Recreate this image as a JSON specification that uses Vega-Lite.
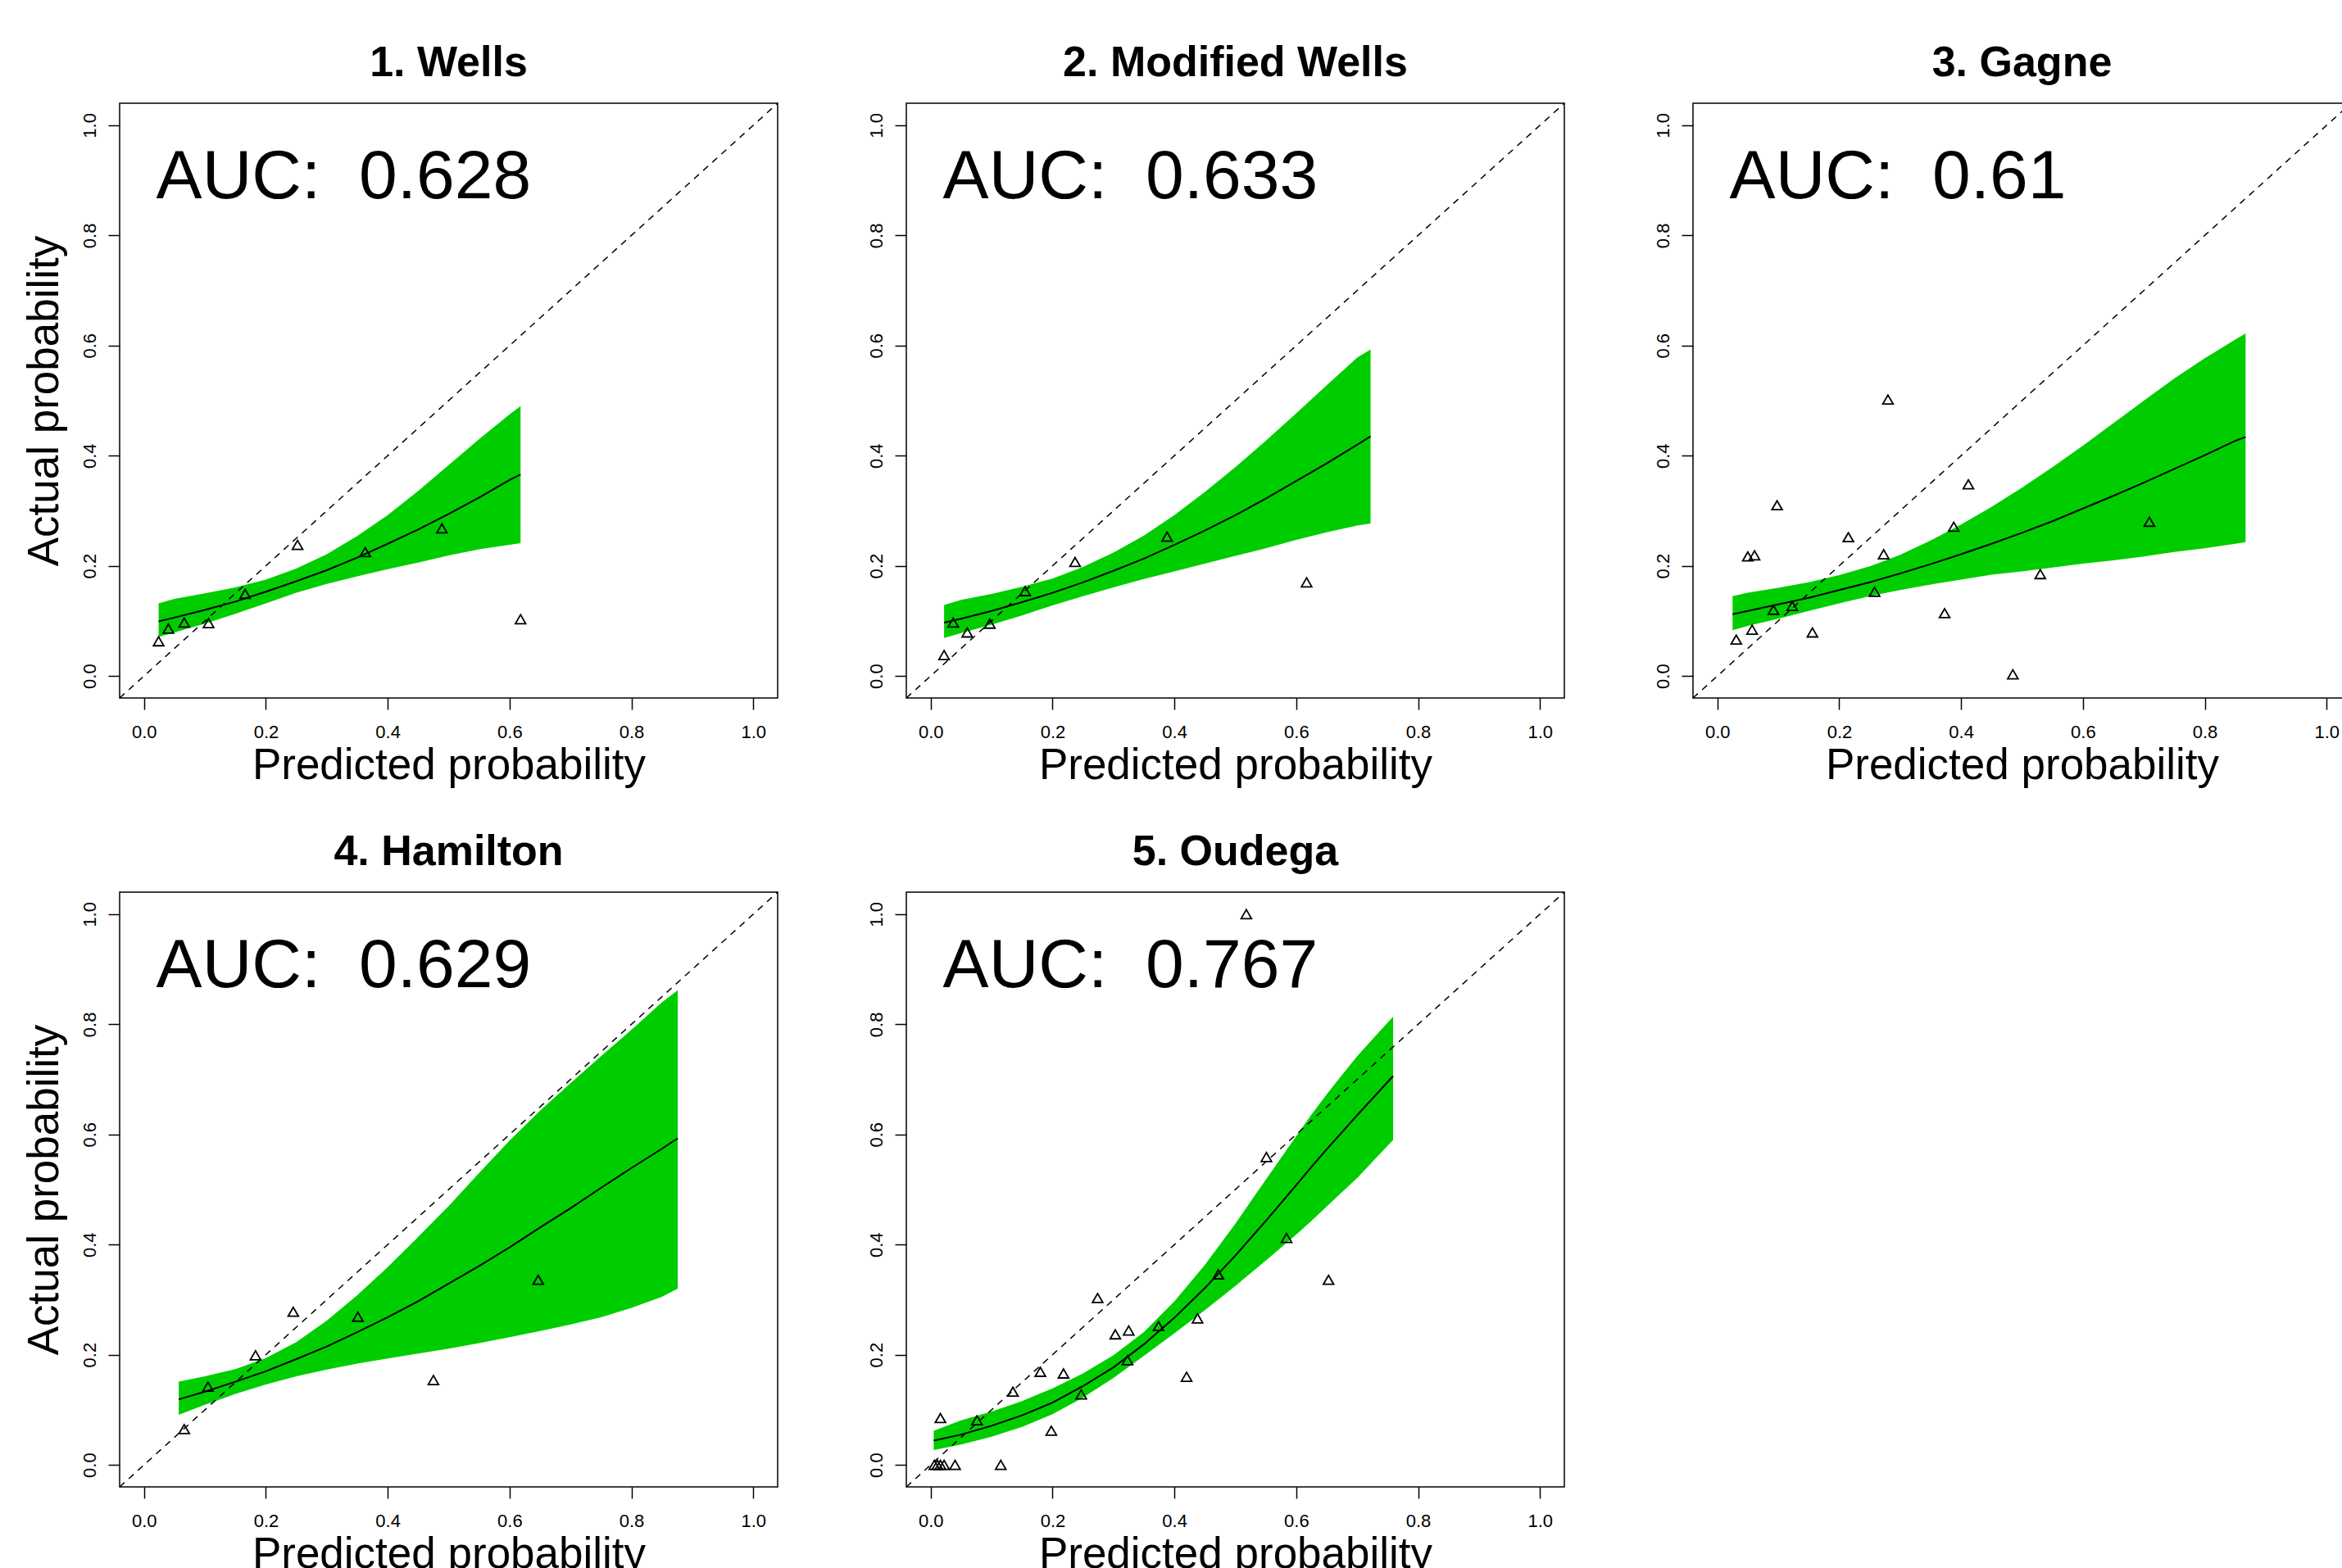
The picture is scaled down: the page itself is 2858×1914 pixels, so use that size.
{
  "$schema": "https://vega.github.io/schema/vega-lite/v6.json",
  "padding": {"left": 27, "top": 50, "right": 0, "bottom": 0},
  "background": "white",
  "datasets": {
    "diag": [{"x": -0.04, "y": -0.04}, {"x": 1.04, "y": 1.04}],
    "auc": [
      {"panel": 1, "x": 0.02, "y": 0.868, "label": "AUC:\u00a0 0.628"},
      {"panel": 2, "x": 0.02, "y": 0.868, "label": "AUC:\u00a0 0.633"},
      {"panel": 3, "x": 0.02, "y": 0.868, "label": "AUC:\u00a0 0.61"},
      {"panel": 4, "x": 0.02, "y": 0.868, "label": "AUC:\u00a0 0.629"},
      {"panel": 5, "x": 0.02, "y": 0.868, "label": "AUC:\u00a0 0.767"}
    ],
    "curves": [
      {"panel": 1, "x": 0.024, "line": 0.099, "lo": 0.071, "hi": 0.132},
      {"panel": 1, "x": 0.05, "line": 0.106, "lo": 0.079, "hi": 0.14},
      {"panel": 1, "x": 0.1, "line": 0.12, "lo": 0.095, "hi": 0.15},
      {"panel": 1, "x": 0.15, "line": 0.135, "lo": 0.113, "hi": 0.161},
      {"panel": 1, "x": 0.2, "line": 0.153, "lo": 0.132, "hi": 0.175},
      {"panel": 1, "x": 0.25, "line": 0.172, "lo": 0.151, "hi": 0.195},
      {"panel": 1, "x": 0.3, "line": 0.192, "lo": 0.167, "hi": 0.221},
      {"panel": 1, "x": 0.35, "line": 0.215, "lo": 0.181, "hi": 0.254},
      {"panel": 1, "x": 0.4, "line": 0.24, "lo": 0.194, "hi": 0.292},
      {"panel": 1, "x": 0.45, "line": 0.266, "lo": 0.206, "hi": 0.336},
      {"panel": 1, "x": 0.5, "line": 0.294, "lo": 0.219, "hi": 0.383},
      {"panel": 1, "x": 0.55, "line": 0.324, "lo": 0.23, "hi": 0.43},
      {"panel": 1, "x": 0.6, "line": 0.356, "lo": 0.238, "hi": 0.475},
      {"panel": 1, "x": 0.618, "line": 0.366, "lo": 0.241, "hi": 0.49},

      {"panel": 2, "x": 0.022, "line": 0.097, "lo": 0.069, "hi": 0.129},
      {"panel": 2, "x": 0.05, "line": 0.104, "lo": 0.078, "hi": 0.138},
      {"panel": 2, "x": 0.1, "line": 0.118, "lo": 0.093, "hi": 0.149},
      {"panel": 2, "x": 0.15, "line": 0.134, "lo": 0.11, "hi": 0.162},
      {"panel": 2, "x": 0.2, "line": 0.151, "lo": 0.128, "hi": 0.177},
      {"panel": 2, "x": 0.25, "line": 0.17, "lo": 0.145, "hi": 0.198},
      {"panel": 2, "x": 0.3, "line": 0.191, "lo": 0.161, "hi": 0.224},
      {"panel": 2, "x": 0.35, "line": 0.213, "lo": 0.176, "hi": 0.255},
      {"panel": 2, "x": 0.4, "line": 0.238, "lo": 0.19, "hi": 0.292},
      {"panel": 2, "x": 0.45, "line": 0.264, "lo": 0.204, "hi": 0.334},
      {"panel": 2, "x": 0.5, "line": 0.292, "lo": 0.218, "hi": 0.379},
      {"panel": 2, "x": 0.55, "line": 0.322, "lo": 0.232, "hi": 0.427},
      {"panel": 2, "x": 0.6, "line": 0.354, "lo": 0.247, "hi": 0.477},
      {"panel": 2, "x": 0.65, "line": 0.386, "lo": 0.261, "hi": 0.528},
      {"panel": 2, "x": 0.7, "line": 0.42, "lo": 0.273, "hi": 0.578},
      {"panel": 2, "x": 0.722, "line": 0.435, "lo": 0.277, "hi": 0.593},

      {"panel": 3, "x": 0.025, "line": 0.112, "lo": 0.083, "hi": 0.145},
      {"panel": 3, "x": 0.05, "line": 0.118, "lo": 0.091, "hi": 0.151},
      {"panel": 3, "x": 0.1, "line": 0.13, "lo": 0.104, "hi": 0.16},
      {"panel": 3, "x": 0.15, "line": 0.142, "lo": 0.118, "hi": 0.17},
      {"panel": 3, "x": 0.2, "line": 0.156, "lo": 0.132, "hi": 0.183},
      {"panel": 3, "x": 0.25, "line": 0.17, "lo": 0.145, "hi": 0.199},
      {"panel": 3, "x": 0.3, "line": 0.186, "lo": 0.156, "hi": 0.22},
      {"panel": 3, "x": 0.35, "line": 0.203, "lo": 0.166, "hi": 0.246},
      {"panel": 3, "x": 0.4, "line": 0.221, "lo": 0.175, "hi": 0.275},
      {"panel": 3, "x": 0.45, "line": 0.24, "lo": 0.184, "hi": 0.307},
      {"panel": 3, "x": 0.5, "line": 0.26, "lo": 0.19, "hi": 0.342},
      {"panel": 3, "x": 0.55, "line": 0.281, "lo": 0.197, "hi": 0.379},
      {"panel": 3, "x": 0.6, "line": 0.304, "lo": 0.204, "hi": 0.418},
      {"panel": 3, "x": 0.65, "line": 0.327, "lo": 0.21, "hi": 0.459},
      {"panel": 3, "x": 0.7, "line": 0.351, "lo": 0.217, "hi": 0.5},
      {"panel": 3, "x": 0.75, "line": 0.376, "lo": 0.225, "hi": 0.54},
      {"panel": 3, "x": 0.8, "line": 0.401, "lo": 0.232, "hi": 0.577},
      {"panel": 3, "x": 0.85, "line": 0.427, "lo": 0.24, "hi": 0.611},
      {"panel": 3, "x": 0.867, "line": 0.434, "lo": 0.243, "hi": 0.622},

      {"panel": 4, "x": 0.057, "line": 0.119, "lo": 0.091, "hi": 0.151},
      {"panel": 4, "x": 0.1, "line": 0.133, "lo": 0.109, "hi": 0.161},
      {"panel": 4, "x": 0.15, "line": 0.151, "lo": 0.129, "hi": 0.174},
      {"panel": 4, "x": 0.2, "line": 0.17, "lo": 0.146, "hi": 0.194},
      {"panel": 4, "x": 0.25, "line": 0.192, "lo": 0.161, "hi": 0.223},
      {"panel": 4, "x": 0.3, "line": 0.215, "lo": 0.173, "hi": 0.262},
      {"panel": 4, "x": 0.35, "line": 0.241, "lo": 0.184, "hi": 0.308},
      {"panel": 4, "x": 0.4, "line": 0.268, "lo": 0.193, "hi": 0.359},
      {"panel": 4, "x": 0.45, "line": 0.297, "lo": 0.202, "hi": 0.414},
      {"panel": 4, "x": 0.5, "line": 0.329, "lo": 0.211, "hi": 0.47},
      {"panel": 4, "x": 0.55, "line": 0.361, "lo": 0.221, "hi": 0.53},
      {"panel": 4, "x": 0.6, "line": 0.395, "lo": 0.232, "hi": 0.589},
      {"panel": 4, "x": 0.65, "line": 0.431, "lo": 0.243, "hi": 0.643},
      {"panel": 4, "x": 0.7, "line": 0.466, "lo": 0.255, "hi": 0.693},
      {"panel": 4, "x": 0.75, "line": 0.503, "lo": 0.268, "hi": 0.742},
      {"panel": 4, "x": 0.8, "line": 0.539, "lo": 0.285, "hi": 0.79},
      {"panel": 4, "x": 0.85, "line": 0.574, "lo": 0.305, "hi": 0.84},
      {"panel": 4, "x": 0.876, "line": 0.593, "lo": 0.32, "hi": 0.862},

      {"panel": 5, "x": 0.005, "line": 0.044, "lo": 0.027, "hi": 0.062},
      {"panel": 5, "x": 0.05, "line": 0.055, "lo": 0.037, "hi": 0.081},
      {"panel": 5, "x": 0.1, "line": 0.071, "lo": 0.051, "hi": 0.097},
      {"panel": 5, "x": 0.15, "line": 0.09, "lo": 0.069, "hi": 0.116},
      {"panel": 5, "x": 0.2, "line": 0.113, "lo": 0.092, "hi": 0.139},
      {"panel": 5, "x": 0.25, "line": 0.143, "lo": 0.122, "hi": 0.166},
      {"panel": 5, "x": 0.3, "line": 0.177, "lo": 0.158, "hi": 0.199},
      {"panel": 5, "x": 0.35, "line": 0.219, "lo": 0.198, "hi": 0.241},
      {"panel": 5, "x": 0.4, "line": 0.267, "lo": 0.239, "hi": 0.297},
      {"panel": 5, "x": 0.45, "line": 0.321, "lo": 0.281, "hi": 0.363},
      {"panel": 5, "x": 0.5, "line": 0.38, "lo": 0.325, "hi": 0.438},
      {"panel": 5, "x": 0.55, "line": 0.443, "lo": 0.371, "hi": 0.518},
      {"panel": 5, "x": 0.6, "line": 0.508, "lo": 0.418, "hi": 0.597},
      {"panel": 5, "x": 0.625, "line": 0.541, "lo": 0.443, "hi": 0.636},
      {"panel": 5, "x": 0.65, "line": 0.573, "lo": 0.469, "hi": 0.673},
      {"panel": 5, "x": 0.675, "line": 0.604, "lo": 0.495, "hi": 0.708},
      {"panel": 5, "x": 0.7, "line": 0.635, "lo": 0.521, "hi": 0.742},
      {"panel": 5, "x": 0.73, "line": 0.671, "lo": 0.556, "hi": 0.779},
      {"panel": 5, "x": 0.759, "line": 0.706, "lo": 0.59, "hi": 0.814}
    ],
    "points": [
      {"panel": 1, "x": 0.024, "y": 0.063}, {"panel": 1, "x": 0.04, "y": 0.086}, {"panel": 1, "x": 0.066, "y": 0.097},
      {"panel": 1, "x": 0.106, "y": 0.096}, {"panel": 1, "x": 0.166, "y": 0.149}, {"panel": 1, "x": 0.252, "y": 0.238},
      {"panel": 1, "x": 0.363, "y": 0.225}, {"panel": 1, "x": 0.489, "y": 0.268}, {"panel": 1, "x": 0.618, "y": 0.103},

      {"panel": 2, "x": 0.022, "y": 0.038}, {"panel": 2, "x": 0.037, "y": 0.097}, {"panel": 2, "x": 0.06, "y": 0.079},
      {"panel": 2, "x": 0.097, "y": 0.095}, {"panel": 2, "x": 0.155, "y": 0.154}, {"panel": 2, "x": 0.237, "y": 0.207},
      {"panel": 2, "x": 0.388, "y": 0.253}, {"panel": 2, "x": 0.617, "y": 0.17},

      {"panel": 3, "x": 0.031, "y": 0.066}, {"panel": 3, "x": 0.05, "y": 0.217}, {"panel": 3, "x": 0.061, "y": 0.219},
      {"panel": 3, "x": 0.057, "y": 0.084}, {"panel": 3, "x": 0.098, "y": 0.31}, {"panel": 3, "x": 0.092, "y": 0.12},
      {"panel": 3, "x": 0.123, "y": 0.127}, {"panel": 3, "x": 0.156, "y": 0.079}, {"panel": 3, "x": 0.215, "y": 0.252},
      {"panel": 3, "x": 0.258, "y": 0.153}, {"panel": 3, "x": 0.273, "y": 0.221}, {"panel": 3, "x": 0.28, "y": 0.502},
      {"panel": 3, "x": 0.373, "y": 0.114}, {"panel": 3, "x": 0.388, "y": 0.271}, {"panel": 3, "x": 0.412, "y": 0.348},
      {"panel": 3, "x": 0.485, "y": 0.003}, {"panel": 3, "x": 0.53, "y": 0.185}, {"panel": 3, "x": 0.709, "y": 0.28},

      {"panel": 4, "x": 0.066, "y": 0.065}, {"panel": 4, "x": 0.105, "y": 0.142}, {"panel": 4, "x": 0.183, "y": 0.199},
      {"panel": 4, "x": 0.245, "y": 0.278}, {"panel": 4, "x": 0.351, "y": 0.269}, {"panel": 4, "x": 0.475, "y": 0.154},
      {"panel": 4, "x": 0.647, "y": 0.336},

      {"panel": 5, "x": 0.006, "y": 0.0}, {"panel": 5, "x": 0.011, "y": 0.0}, {"panel": 5, "x": 0.016, "y": 0.0},
      {"panel": 5, "x": 0.022, "y": 0.0}, {"panel": 5, "x": 0.04, "y": 0.0}, {"panel": 5, "x": 0.115, "y": 0.0},
      {"panel": 5, "x": 0.016, "y": 0.085}, {"panel": 5, "x": 0.076, "y": 0.081}, {"panel": 5, "x": 0.135, "y": 0.133},
      {"panel": 5, "x": 0.18, "y": 0.169}, {"panel": 5, "x": 0.198, "y": 0.062}, {"panel": 5, "x": 0.218, "y": 0.166},
      {"panel": 5, "x": 0.247, "y": 0.128}, {"panel": 5, "x": 0.274, "y": 0.303}, {"panel": 5, "x": 0.303, "y": 0.237},
      {"panel": 5, "x": 0.325, "y": 0.244}, {"panel": 5, "x": 0.323, "y": 0.19}, {"panel": 5, "x": 0.374, "y": 0.252},
      {"panel": 5, "x": 0.42, "y": 0.16}, {"panel": 5, "x": 0.438, "y": 0.266}, {"panel": 5, "x": 0.472, "y": 0.346},
      {"panel": 5, "x": 0.518, "y": 1.0}, {"panel": 5, "x": 0.551, "y": 0.559}, {"panel": 5, "x": 0.584, "y": 0.412},
      {"panel": 5, "x": 0.653, "y": 0.336}
    ]
  },
  "columns": 3,
  "spacing": {"row": 237, "column": 157},
  "bounds": "flush",
  "concat": [
    {
      "width": 803, "height": 726,
      "title": {"text": "1. Wells"},
      "layer": [
        {"data": {"name": "curves"}, "transform": [{"filter": "datum.panel == 1"}],
         "mark": {"type": "area", "color": "#00CD00", "opacity": 1},
         "encoding": {
           "x": {"field": "x", "type": "quantitative", "scale": {"domain": [-0.04, 1.04], "nice": false, "zero": false}, "axis": {"title": "Predicted probability", "values": [0, 0.2, 0.4, 0.6, 0.8, 1], "format": ".1f"}},
           "y": {"field": "lo", "type": "quantitative", "scale": {"domain": [-0.04, 1.04], "nice": false, "zero": false}, "axis": {"title": "Actual probability", "values": [0, 0.2, 0.4, 0.6, 0.8, 1], "format": ".1f"}},
           "y2": {"field": "hi"}}},
        {"data": {"name": "diag"},
         "mark": {"type": "line", "color": "black", "strokeWidth": 1.5, "strokeDash": [8, 7]},
         "encoding": {
           "x": {"field": "x", "type": "quantitative", "scale": {"domain": [-0.04, 1.04], "nice": false, "zero": false}, "axis": {"title": "Predicted probability", "values": [0, 0.2, 0.4, 0.6, 0.8, 1], "format": ".1f"}},
           "y": {"field": "y", "type": "quantitative", "scale": {"domain": [-0.04, 1.04], "nice": false, "zero": false}, "axis": {"title": "Actual probability", "values": [0, 0.2, 0.4, 0.6, 0.8, 1], "format": ".1f"}}}},
        {"data": {"name": "curves"}, "transform": [{"filter": "datum.panel == 1"}],
         "mark": {"type": "line", "color": "black", "strokeWidth": 2},
         "encoding": {
           "x": {"field": "x", "type": "quantitative", "scale": {"domain": [-0.04, 1.04], "nice": false, "zero": false}, "axis": {"title": "Predicted probability", "values": [0, 0.2, 0.4, 0.6, 0.8, 1], "format": ".1f"}},
           "y": {"field": "line", "type": "quantitative", "scale": {"domain": [-0.04, 1.04], "nice": false, "zero": false}, "axis": {"title": "Actual probability", "values": [0, 0.2, 0.4, 0.6, 0.8, 1], "format": ".1f"}}}},
        {"data": {"name": "points"}, "transform": [{"filter": "datum.panel == 1"}],
         "mark": {"type": "point", "shape": "triangle-up", "filled": false, "size": 160, "strokeWidth": 1.8, "color": "black", "opacity": 1},
         "encoding": {
           "x": {"field": "x", "type": "quantitative", "scale": {"domain": [-0.04, 1.04], "nice": false, "zero": false}, "axis": {"title": "Predicted probability", "values": [0, 0.2, 0.4, 0.6, 0.8, 1], "format": ".1f"}},
           "y": {"field": "y", "type": "quantitative", "scale": {"domain": [-0.04, 1.04], "nice": false, "zero": false}, "axis": {"title": "Actual probability", "values": [0, 0.2, 0.4, 0.6, 0.8, 1], "format": ".1f"}}}},
        {"data": {"name": "auc"}, "transform": [{"filter": "datum.panel == 1"}],
         "mark": {"type": "text", "align": "left", "baseline": "alphabetic", "fontSize": 84, "color": "black"},
         "encoding": {
           "x": {"field": "x", "type": "quantitative", "scale": {"domain": [-0.04, 1.04], "nice": false, "zero": false}, "axis": {"title": "Predicted probability", "values": [0, 0.2, 0.4, 0.6, 0.8, 1], "format": ".1f"}},
           "y": {"field": "y", "type": "quantitative", "scale": {"domain": [-0.04, 1.04], "nice": false, "zero": false}, "axis": {"title": "Actual probability", "values": [0, 0.2, 0.4, 0.6, 0.8, 1], "format": ".1f"}},
           "text": {"field": "label"}}}
      ]
    },
    {
      "width": 803, "height": 726,
      "title": {"text": "2. Modified Wells"},
      "layer": [
        {"data": {"name": "curves"}, "transform": [{"filter": "datum.panel == 2"}],
         "mark": {"type": "area", "color": "#00CD00", "opacity": 1},
         "encoding": {
           "x": {"field": "x", "type": "quantitative", "scale": {"domain": [-0.04, 1.04], "nice": false, "zero": false}, "axis": {"title": "Predicted probability", "values": [0, 0.2, 0.4, 0.6, 0.8, 1], "format": ".1f"}},
           "y": {"field": "lo", "type": "quantitative", "scale": {"domain": [-0.04, 1.04], "nice": false, "zero": false}, "axis": {"title": null, "values": [0, 0.2, 0.4, 0.6, 0.8, 1], "format": ".1f"}},
           "y2": {"field": "hi"}}},
        {"data": {"name": "diag"},
         "mark": {"type": "line", "color": "black", "strokeWidth": 1.5, "strokeDash": [8, 7]},
         "encoding": {
           "x": {"field": "x", "type": "quantitative", "scale": {"domain": [-0.04, 1.04], "nice": false, "zero": false}, "axis": {"title": "Predicted probability", "values": [0, 0.2, 0.4, 0.6, 0.8, 1], "format": ".1f"}},
           "y": {"field": "y", "type": "quantitative", "scale": {"domain": [-0.04, 1.04], "nice": false, "zero": false}, "axis": {"title": null, "values": [0, 0.2, 0.4, 0.6, 0.8, 1], "format": ".1f"}}}},
        {"data": {"name": "curves"}, "transform": [{"filter": "datum.panel == 2"}],
         "mark": {"type": "line", "color": "black", "strokeWidth": 2},
         "encoding": {
           "x": {"field": "x", "type": "quantitative", "scale": {"domain": [-0.04, 1.04], "nice": false, "zero": false}, "axis": {"title": "Predicted probability", "values": [0, 0.2, 0.4, 0.6, 0.8, 1], "format": ".1f"}},
           "y": {"field": "line", "type": "quantitative", "scale": {"domain": [-0.04, 1.04], "nice": false, "zero": false}, "axis": {"title": null, "values": [0, 0.2, 0.4, 0.6, 0.8, 1], "format": ".1f"}}}},
        {"data": {"name": "points"}, "transform": [{"filter": "datum.panel == 2"}],
         "mark": {"type": "point", "shape": "triangle-up", "filled": false, "size": 160, "strokeWidth": 1.8, "color": "black", "opacity": 1},
         "encoding": {
           "x": {"field": "x", "type": "quantitative", "scale": {"domain": [-0.04, 1.04], "nice": false, "zero": false}, "axis": {"title": "Predicted probability", "values": [0, 0.2, 0.4, 0.6, 0.8, 1], "format": ".1f"}},
           "y": {"field": "y", "type": "quantitative", "scale": {"domain": [-0.04, 1.04], "nice": false, "zero": false}, "axis": {"title": null, "values": [0, 0.2, 0.4, 0.6, 0.8, 1], "format": ".1f"}}}},
        {"data": {"name": "auc"}, "transform": [{"filter": "datum.panel == 2"}],
         "mark": {"type": "text", "align": "left", "baseline": "alphabetic", "fontSize": 84, "color": "black"},
         "encoding": {
           "x": {"field": "x", "type": "quantitative", "scale": {"domain": [-0.04, 1.04], "nice": false, "zero": false}, "axis": {"title": "Predicted probability", "values": [0, 0.2, 0.4, 0.6, 0.8, 1], "format": ".1f"}},
           "y": {"field": "y", "type": "quantitative", "scale": {"domain": [-0.04, 1.04], "nice": false, "zero": false}, "axis": {"title": null, "values": [0, 0.2, 0.4, 0.6, 0.8, 1], "format": ".1f"}},
           "text": {"field": "label"}}}
      ]
    },
    {
      "width": 803, "height": 726,
      "title": {"text": "3. Gagne"},
      "layer": [
        {"data": {"name": "curves"}, "transform": [{"filter": "datum.panel == 3"}],
         "mark": {"type": "area", "color": "#00CD00", "opacity": 1},
         "encoding": {
           "x": {"field": "x", "type": "quantitative", "scale": {"domain": [-0.04, 1.04], "nice": false, "zero": false}, "axis": {"title": "Predicted probability", "values": [0, 0.2, 0.4, 0.6, 0.8, 1], "format": ".1f"}},
           "y": {"field": "lo", "type": "quantitative", "scale": {"domain": [-0.04, 1.04], "nice": false, "zero": false}, "axis": {"title": null, "values": [0, 0.2, 0.4, 0.6, 0.8, 1], "format": ".1f"}},
           "y2": {"field": "hi"}}},
        {"data": {"name": "diag"},
         "mark": {"type": "line", "color": "black", "strokeWidth": 1.5, "strokeDash": [8, 7]},
         "encoding": {
           "x": {"field": "x", "type": "quantitative", "scale": {"domain": [-0.04, 1.04], "nice": false, "zero": false}, "axis": {"title": "Predicted probability", "values": [0, 0.2, 0.4, 0.6, 0.8, 1], "format": ".1f"}},
           "y": {"field": "y", "type": "quantitative", "scale": {"domain": [-0.04, 1.04], "nice": false, "zero": false}, "axis": {"title": null, "values": [0, 0.2, 0.4, 0.6, 0.8, 1], "format": ".1f"}}}},
        {"data": {"name": "curves"}, "transform": [{"filter": "datum.panel == 3"}],
         "mark": {"type": "line", "color": "black", "strokeWidth": 2},
         "encoding": {
           "x": {"field": "x", "type": "quantitative", "scale": {"domain": [-0.04, 1.04], "nice": false, "zero": false}, "axis": {"title": "Predicted probability", "values": [0, 0.2, 0.4, 0.6, 0.8, 1], "format": ".1f"}},
           "y": {"field": "line", "type": "quantitative", "scale": {"domain": [-0.04, 1.04], "nice": false, "zero": false}, "axis": {"title": null, "values": [0, 0.2, 0.4, 0.6, 0.8, 1], "format": ".1f"}}}},
        {"data": {"name": "points"}, "transform": [{"filter": "datum.panel == 3"}],
         "mark": {"type": "point", "shape": "triangle-up", "filled": false, "size": 160, "strokeWidth": 1.8, "color": "black", "opacity": 1},
         "encoding": {
           "x": {"field": "x", "type": "quantitative", "scale": {"domain": [-0.04, 1.04], "nice": false, "zero": false}, "axis": {"title": "Predicted probability", "values": [0, 0.2, 0.4, 0.6, 0.8, 1], "format": ".1f"}},
           "y": {"field": "y", "type": "quantitative", "scale": {"domain": [-0.04, 1.04], "nice": false, "zero": false}, "axis": {"title": null, "values": [0, 0.2, 0.4, 0.6, 0.8, 1], "format": ".1f"}}}},
        {"data": {"name": "auc"}, "transform": [{"filter": "datum.panel == 3"}],
         "mark": {"type": "text", "align": "left", "baseline": "alphabetic", "fontSize": 84, "color": "black"},
         "encoding": {
           "x": {"field": "x", "type": "quantitative", "scale": {"domain": [-0.04, 1.04], "nice": false, "zero": false}, "axis": {"title": "Predicted probability", "values": [0, 0.2, 0.4, 0.6, 0.8, 1], "format": ".1f"}},
           "y": {"field": "y", "type": "quantitative", "scale": {"domain": [-0.04, 1.04], "nice": false, "zero": false}, "axis": {"title": null, "values": [0, 0.2, 0.4, 0.6, 0.8, 1], "format": ".1f"}},
           "text": {"field": "label"}}}
      ]
    },
    {
      "width": 803, "height": 726,
      "title": {"text": "4. Hamilton"},
      "layer": [
        {"data": {"name": "curves"}, "transform": [{"filter": "datum.panel == 4"}],
         "mark": {"type": "area", "color": "#00CD00", "opacity": 1},
         "encoding": {
           "x": {"field": "x", "type": "quantitative", "scale": {"domain": [-0.04, 1.04], "nice": false, "zero": false}, "axis": {"title": "Predicted probability", "values": [0, 0.2, 0.4, 0.6, 0.8, 1], "format": ".1f"}},
           "y": {"field": "lo", "type": "quantitative", "scale": {"domain": [-0.04, 1.04], "nice": false, "zero": false}, "axis": {"title": "Actual probability", "values": [0, 0.2, 0.4, 0.6, 0.8, 1], "format": ".1f"}},
           "y2": {"field": "hi"}}},
        {"data": {"name": "diag"},
         "mark": {"type": "line", "color": "black", "strokeWidth": 1.5, "strokeDash": [8, 7]},
         "encoding": {
           "x": {"field": "x", "type": "quantitative", "scale": {"domain": [-0.04, 1.04], "nice": false, "zero": false}, "axis": {"title": "Predicted probability", "values": [0, 0.2, 0.4, 0.6, 0.8, 1], "format": ".1f"}},
           "y": {"field": "y", "type": "quantitative", "scale": {"domain": [-0.04, 1.04], "nice": false, "zero": false}, "axis": {"title": "Actual probability", "values": [0, 0.2, 0.4, 0.6, 0.8, 1], "format": ".1f"}}}},
        {"data": {"name": "curves"}, "transform": [{"filter": "datum.panel == 4"}],
         "mark": {"type": "line", "color": "black", "strokeWidth": 2},
         "encoding": {
           "x": {"field": "x", "type": "quantitative", "scale": {"domain": [-0.04, 1.04], "nice": false, "zero": false}, "axis": {"title": "Predicted probability", "values": [0, 0.2, 0.4, 0.6, 0.8, 1], "format": ".1f"}},
           "y": {"field": "line", "type": "quantitative", "scale": {"domain": [-0.04, 1.04], "nice": false, "zero": false}, "axis": {"title": "Actual probability", "values": [0, 0.2, 0.4, 0.6, 0.8, 1], "format": ".1f"}}}},
        {"data": {"name": "points"}, "transform": [{"filter": "datum.panel == 4"}],
         "mark": {"type": "point", "shape": "triangle-up", "filled": false, "size": 160, "strokeWidth": 1.8, "color": "black", "opacity": 1},
         "encoding": {
           "x": {"field": "x", "type": "quantitative", "scale": {"domain": [-0.04, 1.04], "nice": false, "zero": false}, "axis": {"title": "Predicted probability", "values": [0, 0.2, 0.4, 0.6, 0.8, 1], "format": ".1f"}},
           "y": {"field": "y", "type": "quantitative", "scale": {"domain": [-0.04, 1.04], "nice": false, "zero": false}, "axis": {"title": "Actual probability", "values": [0, 0.2, 0.4, 0.6, 0.8, 1], "format": ".1f"}}}},
        {"data": {"name": "auc"}, "transform": [{"filter": "datum.panel == 4"}],
         "mark": {"type": "text", "align": "left", "baseline": "alphabetic", "fontSize": 84, "color": "black"},
         "encoding": {
           "x": {"field": "x", "type": "quantitative", "scale": {"domain": [-0.04, 1.04], "nice": false, "zero": false}, "axis": {"title": "Predicted probability", "values": [0, 0.2, 0.4, 0.6, 0.8, 1], "format": ".1f"}},
           "y": {"field": "y", "type": "quantitative", "scale": {"domain": [-0.04, 1.04], "nice": false, "zero": false}, "axis": {"title": "Actual probability", "values": [0, 0.2, 0.4, 0.6, 0.8, 1], "format": ".1f"}},
           "text": {"field": "label"}}}
      ]
    },
    {
      "width": 803, "height": 726,
      "title": {"text": "5. Oudega"},
      "layer": [
        {"data": {"name": "curves"}, "transform": [{"filter": "datum.panel == 5"}],
         "mark": {"type": "area", "color": "#00CD00", "opacity": 1},
         "encoding": {
           "x": {"field": "x", "type": "quantitative", "scale": {"domain": [-0.04, 1.04], "nice": false, "zero": false}, "axis": {"title": "Predicted probability", "values": [0, 0.2, 0.4, 0.6, 0.8, 1], "format": ".1f"}},
           "y": {"field": "lo", "type": "quantitative", "scale": {"domain": [-0.04, 1.04], "nice": false, "zero": false}, "axis": {"title": null, "values": [0, 0.2, 0.4, 0.6, 0.8, 1], "format": ".1f"}},
           "y2": {"field": "hi"}}},
        {"data": {"name": "diag"},
         "mark": {"type": "line", "color": "black", "strokeWidth": 1.5, "strokeDash": [8, 7]},
         "encoding": {
           "x": {"field": "x", "type": "quantitative", "scale": {"domain": [-0.04, 1.04], "nice": false, "zero": false}, "axis": {"title": "Predicted probability", "values": [0, 0.2, 0.4, 0.6, 0.8, 1], "format": ".1f"}},
           "y": {"field": "y", "type": "quantitative", "scale": {"domain": [-0.04, 1.04], "nice": false, "zero": false}, "axis": {"title": null, "values": [0, 0.2, 0.4, 0.6, 0.8, 1], "format": ".1f"}}}},
        {"data": {"name": "curves"}, "transform": [{"filter": "datum.panel == 5"}],
         "mark": {"type": "line", "color": "black", "strokeWidth": 2},
         "encoding": {
           "x": {"field": "x", "type": "quantitative", "scale": {"domain": [-0.04, 1.04], "nice": false, "zero": false}, "axis": {"title": "Predicted probability", "values": [0, 0.2, 0.4, 0.6, 0.8, 1], "format": ".1f"}},
           "y": {"field": "line", "type": "quantitative", "scale": {"domain": [-0.04, 1.04], "nice": false, "zero": false}, "axis": {"title": null, "values": [0, 0.2, 0.4, 0.6, 0.8, 1], "format": ".1f"}}}},
        {"data": {"name": "points"}, "transform": [{"filter": "datum.panel == 5"}],
         "mark": {"type": "point", "shape": "triangle-up", "filled": false, "size": 160, "strokeWidth": 1.8, "color": "black", "opacity": 1},
         "encoding": {
           "x": {"field": "x", "type": "quantitative", "scale": {"domain": [-0.04, 1.04], "nice": false, "zero": false}, "axis": {"title": "Predicted probability", "values": [0, 0.2, 0.4, 0.6, 0.8, 1], "format": ".1f"}},
           "y": {"field": "y", "type": "quantitative", "scale": {"domain": [-0.04, 1.04], "nice": false, "zero": false}, "axis": {"title": null, "values": [0, 0.2, 0.4, 0.6, 0.8, 1], "format": ".1f"}}}},
        {"data": {"name": "auc"}, "transform": [{"filter": "datum.panel == 5"}],
         "mark": {"type": "text", "align": "left", "baseline": "alphabetic", "fontSize": 84, "color": "black"},
         "encoding": {
           "x": {"field": "x", "type": "quantitative", "scale": {"domain": [-0.04, 1.04], "nice": false, "zero": false}, "axis": {"title": "Predicted probability", "values": [0, 0.2, 0.4, 0.6, 0.8, 1], "format": ".1f"}},
           "y": {"field": "y", "type": "quantitative", "scale": {"domain": [-0.04, 1.04], "nice": false, "zero": false}, "axis": {"title": null, "values": [0, 0.2, 0.4, 0.6, 0.8, 1], "format": ".1f"}},
           "text": {"field": "label"}}}
      ]
    }
  ],
  "config": {
    "font": "Liberation Sans",
    "view": {"stroke": "black", "strokeWidth": 1.5},
    "axis": {
      "grid": false, "domain": false, "ticks": true, "tickColor": "black", "tickWidth": 1.5, "tickSize": 14,
      "labelFont": "Liberation Sans", "labelFontSize": 22, "labelColor": "black", "labelOverlap": false, "labelFlush": false,
      "titleFont": "Liberation Sans", "titleFontSize": 53, "titleFontWeight": "normal", "titleColor": "black"
    },
    "axisX": {"labelPadding": 17, "titleX": 401.5, "titleY": 98, "titleBaseline": "alphabetic", "titleAlign": "center", "titleAngle": 0},
    "axisY": {"labelAngle": 270, "labelAlign": "center", "labelBaseline": "alphabetic", "labelPadding": 16,
              "titleAngle": 270, "titleX": -76, "titleY": 363, "titleBaseline": "alphabetic", "titleAlign": "center"},
    "title": {"font": "Liberation Sans", "fontSize": 52, "fontWeight": "bold", "color": "black", "offset": 19, "baseline": "alphabetic", "anchor": "middle", "frame": "group"}
  }
}
